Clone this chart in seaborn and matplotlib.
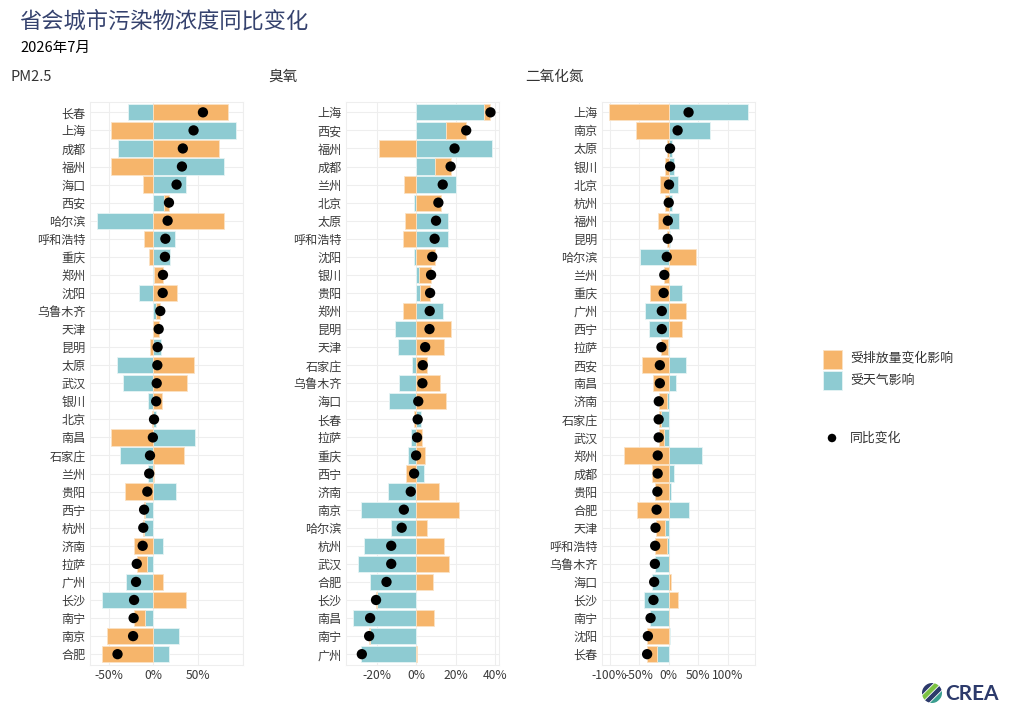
import numpy as np
import pandas as pd
import matplotlib
matplotlib.use("Agg")
import matplotlib.pyplot as plt
import seaborn as sns
from matplotlib.patches import Rectangle, Circle, Ellipse
from matplotlib.ticker import FuncFormatter

# ---------------- data ----------------
pm_cities = ['长春','上海','成都','福州','海口','西安','哈尔滨','呼和浩特','重庆','郑州','沈阳','乌鲁木齐','天津','昆明','太原','武汉',
             '银川','北京','南昌','石家庄','兰州','贵阳','西宁','杭州','济南','拉萨','广州','长沙','南宁','南京','合肥']
pm_emission = [83.5, -47, 73.5, -47, -11.5, 5, 79, -10, -5, 10.5, 27, 4.5, 6.5, -3.7, 45.5, 37.5,
               9.3, -1.5, -47, 34, 1, -31.5, -1, -0.7, -21.5, -11.5, 11, 36, -13, -51.5, -57.5]
pm_weather = [-28, 92.5, -40, 79, 37, 12.5, -63, 24, 18.5, 0.3, -16.5, 3, -0.5, 8.5, -41, -33.5,
              -5.5, 2.5, 46.5, -37.5, -5.5, 25, -9.5, -10.5, 10.5, -6.7, -30, -57.5, -9, 29, 17.7]
pm_total = [55.5, 45, 33, 32, 26, 17.5, 16, 13.5, 13, 10.8, 10.5, 7.8, 6, 4.8, 4.5, 3.8,
            3.2, 0.8, -0.5, -3.7, -4.6, -6.7, -10.3, -11.2, -11.9, -18.5, -19.3, -21.5, -22, -22.6, -40]

o3_cities = ['上海','西安','福州','成都','兰州','北京','太原','呼和浩特','沈阳','银川','贵阳','郑州','昆明','天津','石家庄','乌鲁木齐',
             '海口','长春','拉萨','重庆','西宁','济南','南京','哈尔滨','杭州','武汉','合肥','长沙','南昌','南宁','广州']
o3_emission = [3.5, 10.4, -19, 7.9, -6.4, 12.4, -5.9, -6.9, 9.4, 6.2, 5.2, -6.6, 17.5, 13.8, 5.4, 12.1,
               14.8, -1.5, 3, 4.1, -5.2, 11.4, 21.6, 5.4, 13.8, 16.6, 8.2, -0.5, 8.7, -0.5, 0.2]
o3_weather = [34, 14.8, 38.3, 9.4, 19.8, -1.3, 15.8, 16.1, -1.3, 1.2, 1.7, 13.3, -10.9, -9.4, -2.2, -9.1,
              -13.9, 2.1, -2.7, -4.3, 4, -14.3, -28, -12.9, -26.6, -29.4, -23.4, -20, -32.2, -23.5, -27.9]
o3_total = [37.5, 25.2, 19.3, 17.3, 13.3, 11.1, 9.9, 9.2, 8, 7.4, 6.9, 6.7, 6.6, 4.4, 3.2, 3,
            0.9, 0.6, 0.3, -0.2, -1.2, -2.9, -6.4, -7.5, -12.8, -12.8, -15.2, -20.5, -23.5, -24, -27.7]

no2_cities = ['上海','南京','太原','银川','北京','杭州','福州','昆明','哈尔滨','兰州','重庆','广州','西宁','拉萨','西安','南昌',
              '济南','石家庄','武汉','郑州','成都','贵阳','合肥','天津','呼和浩特','乌鲁木齐','海口','长沙','南宁','沈阳','长春']
no2_emission = [-101, -56, -3, -6, -15.5, -6, -18, -3.2, 45.3, -8.5, -31.8, 28.5, 21.8, -11.5, -44.7, -26.8,
                -14, -4.5, -9, -75.4, -28.5, -23.5, -53.6, -15.6, -20.7, 1, 3.9, 15.5, 1.1, -36.9, -16.4]
no2_weather = [134, 70.5, 5, 8.4, 16, 6, 16.5, 1.5, -48.6, 1, 23, -40.2, -33.5, -0.8, 29.6, 11.7,
               -2.8, -12.3, -7.8, 56.4, 9.5, 4.5, 33.5, -6.7, -2.2, -24, -28.5, -41.3, -31.8, 1.7, -20.1]
no2_total = [33.5, 15, 2.2, 2.3, 0.5, 0, -1.5, -1.7, -3.3, -7.5, -8.6, -11.7, -11.7, -12.3, -15, -15,
             -16.8, -17, -17, -18.6, -18.7, -19.2, -20.5, -22.3, -22.9, -23.4, -24.6, -25.8, -30.7, -35.2, -36.5]

panel_titles = ['PM2.5', '臭氧', '二氧化氮']
major_ticks = [[-50, 0, 50], [-20, 0, 20, 40], [-100, -50, 0, 50, 100]]
grid_lines = [[-50, 0, 50, 100], [-20, 0, 20, 40], [-100, -50, 0, 50, 100]]
title_text = '省会城市污染物浓度同比变化'
subtitle_text = '2026年7月'
legend_labels = ['受排放量变化影响', '受天气影响', '同比变化']

# ---------------- style ----------------
ORANGE = '#f6b56b'
BLUE = '#8ecbd2'
GRID = '#eeeeee'
sns.set_theme(style='white')
plt.rcParams['font.family'] = ['Noto Sans CJK SC', 'DejaVu Sans']
plt.rcParams['axes.unicode_minus'] = False

fig = plt.figure(figsize=(10.24, 7.17), dpi=100)
W, H = 1024, 717

def fx(px):
    return px / W

def fy(py):
    return 1 - py / H

panels = [
    (pm_cities, pm_emission, pm_weather, pm_total, 90),
    (o3_cities, o3_emission, o3_weather, o3_total, 346),
    (no2_cities, no2_emission, no2_weather, no2_total, 602),
]
title_x = [10, 268, 525]

for i, (cities, emis, wea, tot, left_px) in enumerate(panels):
    ax = fig.add_axes([fx(left_px), fy(665), 153 / W, (665 - 101.5) / H])
    df = pd.DataFrame({'city': cities, 'emission': emis, 'weather': wea, 'total': tot})
    df['pos'] = np.arange(len(df))
    e = df['emission'].to_numpy()
    w = df['weather'].to_numpy()
    e_left = np.where(np.sign(e) == np.sign(w), w, 0.0)
    ax.barh(df['pos'], w, left=0, height=0.9, color=BLUE, edgecolor='#e6f4f5', lw=0.6, zorder=2)
    ax.barh(df['pos'], e, left=e_left, height=0.9, color=ORANGE, edgecolor='#fbe2c4', lw=0.6, zorder=2)
    sns.scatterplot(data=df, x='total', y='pos', ax=ax, color='black', s=55, edgecolor='none', zorder=4, legend=False)
    # x-limits from the stacked bar extents, 5% expansion
    ends = np.concatenate([w, e_left + e, [0.0]])
    lo, hi = ends.min(), ends.max()
    pad = (hi - lo) * 0.05
    ax.set_xlim(lo - pad, hi + pad)
    ax.set_ylim(len(df) - 1 + 0.6, -0.6)
    ax.set_axisbelow(True)
    for yy in df['pos']:
        ax.axhline(yy, color=GRID, lw=0.8, zorder=0)
    for t in grid_lines[i]:
        ax.axvline(t, color=GRID, lw=0.8, zorder=0)
    ax.set_xlim(lo - pad, hi + pad)
    ax.set_yticks(df['pos'])
    ax.set_yticklabels(df['city'])
    ax.set_xticks(major_ticks[i])
    ax.xaxis.set_major_formatter(FuncFormatter(lambda v, p: f'{v:.0f}%'))
    ax.tick_params(axis='both', length=0, labelsize=8.7, colors='#3a3a3a', pad=3)
    ax.set_xlabel('')
    ax.set_ylabel('')
    for sp in ax.spines.values():
        sp.set_color(GRID)
        sp.set_linewidth(0.8)
    fig.text(fx(title_x[i]), fy(77), panel_titles[i], fontsize=10.5, color='#333333', ha='left', va='center')

# titles
fig.text(fx(19), fy(21), title_text, fontsize=16, color='#35426e', ha='left', va='center')
fig.text(fx(20), fy(48), subtitle_text, fontsize=10.5, color='black', ha='left', va='center')

# legend (manual)
fig.patches.append(Rectangle((fx(823), fy(369)), 19 / W, 19 / H, transform=fig.transFigure,
                             facecolor=ORANGE, edgecolor='#fbe2c4', lw=0.6))
fig.patches.append(Rectangle((fx(823), fy(390)), 19 / W, 19 / H, transform=fig.transFigure,
                             facecolor=BLUE, edgecolor='#e6f4f5', lw=0.6))
fig.text(fx(850), fy(358), legend_labels[0], fontsize=9.3, color='#333333', ha='left', va='center')
fig.text(fx(850), fy(380), legend_labels[1], fontsize=9.3, color='#333333', ha='left', va='center')
fig.patches.append(Ellipse((fx(832), fy(438)), 8.5 / W, 8.5 / H, transform=fig.transFigure,
                           facecolor='black', edgecolor='none'))
fig.text(fx(850), fy(438), legend_labels[2], fontsize=9.3, color='#333333', ha='left', va='center')

# logo
lax = fig.add_axes([fx(922), fy(703), 20 / W, 20 / H])
lax.set_xlim(-1, 1)
lax.set_ylim(-1, 1)
lax.set_aspect('equal')
lax.axis('off')
clip = Circle((0, 0), 1, transform=lax.transData)
for off, col in zip([-1.1, -0.35, 0.4, 1.15], ['#3a9e8f', '#2c3a6b', '#7cc242', '#2c3a6b']):
    xs = np.array([-1.5, 1.5])
    line, = lax.plot(xs, xs + off, color=col, lw=3.2, solid_capstyle='butt')
    line.set_clip_path(clip)
fig.text(fx(945), fy(694), 'CREA', fontsize=15, fontweight='bold', color='#2c3a6b', ha='left', va='center',
         family=['Lato', 'DejaVu Sans'])

fig.savefig('out.png', dpi=100)
